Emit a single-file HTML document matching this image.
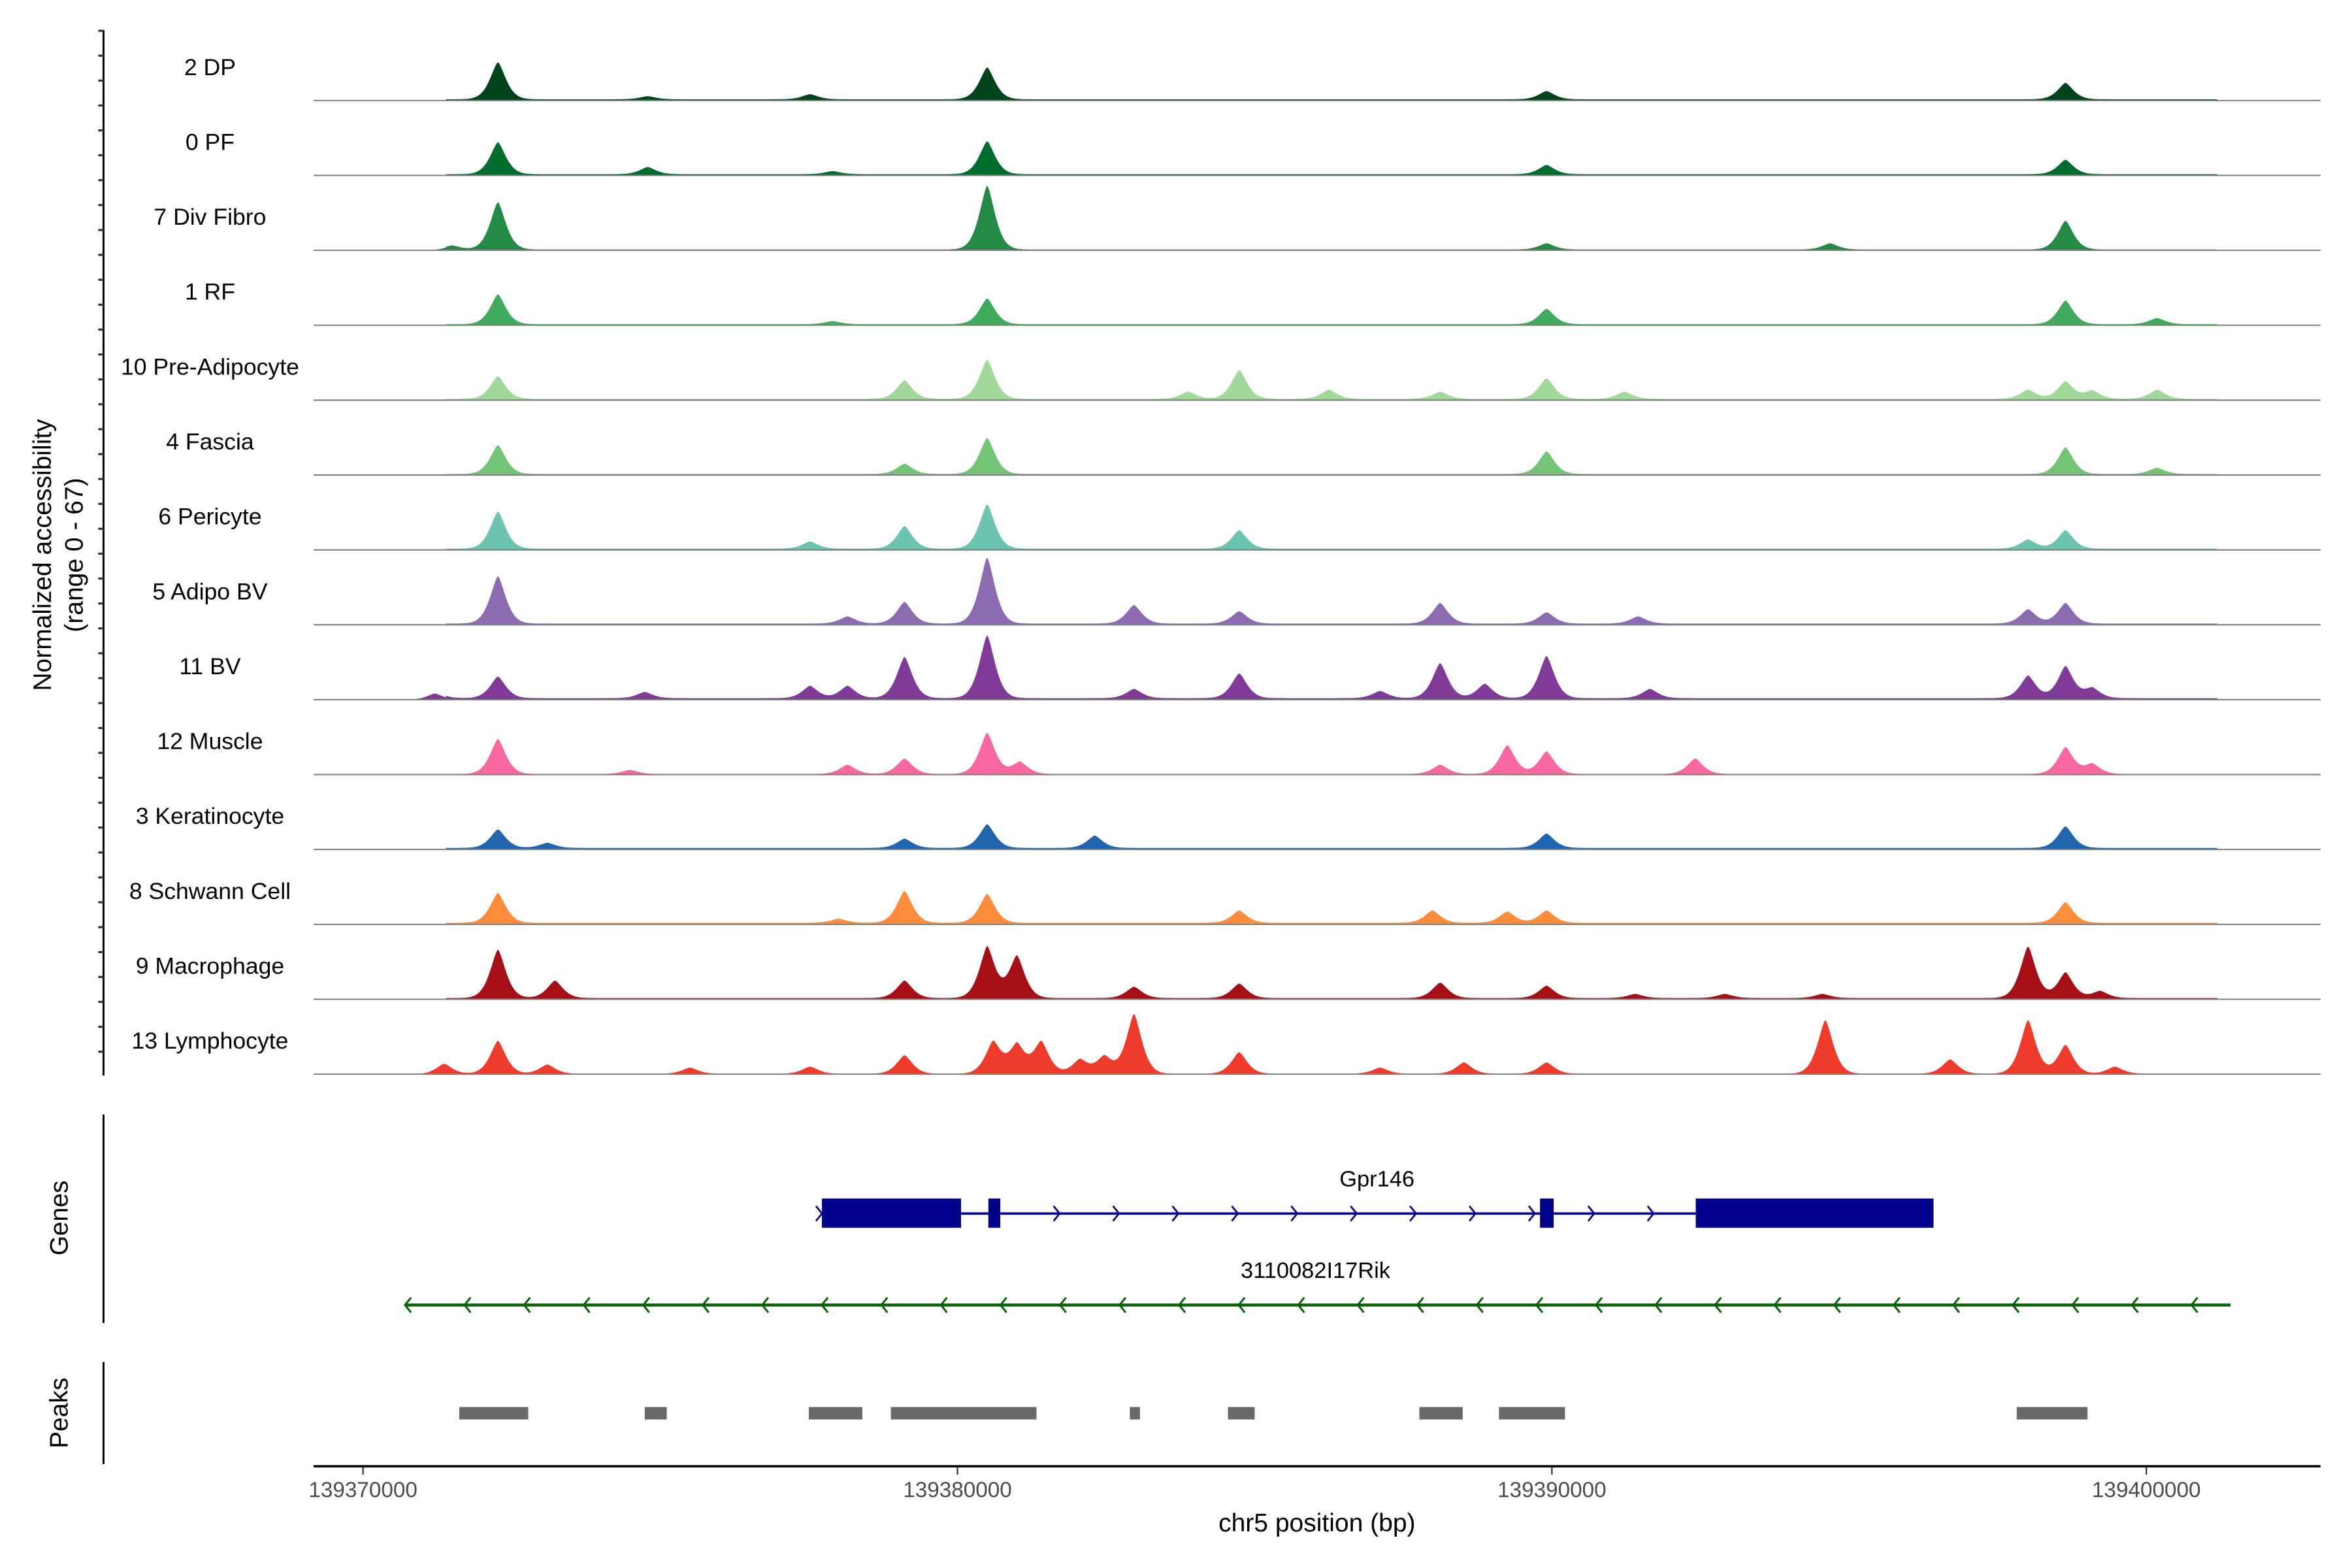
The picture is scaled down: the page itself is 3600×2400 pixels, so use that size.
<!DOCTYPE html>
<html><head><meta charset="utf-8"><style>
html,body{margin:0;padding:0;background:#fff;}
svg{display:block;font-family:"Liberation Sans",sans-serif;}
</style></head><body>
<svg id="chart" xmlns="http://www.w3.org/2000/svg" width="3600" height="2400" viewBox="0 0 1568 1045.3">
<rect x="0" y="0" width="1568" height="1046" fill="#fff"/>
<g id="tracks"></g>
<line x1="69" y1="20" x2="69" y2="717" stroke="#000" stroke-width="1.3"/>
<g id="yticks"></g>
<text transform="translate(34,370) rotate(-90)" text-anchor="middle" font-size="17">Normalized accessibility</text>
<text transform="translate(55,370) rotate(-90)" text-anchor="middle" font-size="17">(range 0 - 67)</text>

<line x1="69" y1="743" x2="69" y2="882" stroke="#000" stroke-width="1.3"/>
<text transform="translate(45,812) rotate(-90)" text-anchor="middle" font-size="17">Genes</text>
<g id="genes"></g>

<line x1="69" y1="908" x2="69" y2="976" stroke="#000" stroke-width="1.3"/>
<text transform="translate(45,942) rotate(-90)" text-anchor="middle" font-size="17">Peaks</text>
<g id="peaks"></g>

<line x1="209" y1="977.5" x2="1547" y2="977.5" stroke="#000" stroke-width="1.6"/>
<g id="xticks"></g>
<text x="878" y="1021" text-anchor="middle" font-size="17">chr5 position (bp)</text>
</svg>
<script>
const NS="http://www.w3.org/2000/svg";
const trackNames=["2 DP","0 PF","7 Div Fibro","1 RF","10 Pre-Adipocyte","4 Fascia","6 Pericyte","5 Adipo BV","11 BV","12 Muscle","3 Keratinocyte","8 Schwann Cell","9 Macrophage","13 Lymphocyte"];
const trackColors=["#00441b","#006d2c","#238b45","#41ab5d","#a1d99b","#74c476","#6cc3b0","#8c6bb1","#7f3b97","#f768a1","#2166ac","#fd8d3c","#a50f15","#ef3b2c"];
// background accessibility level per track (0-67 scale)
const bgLevel=[1.2,1.2,0.8,1.0,1.2,1.0,1.2,1.2,1.5,0.6,1.5,1.5,1.2,0.4];
// peak positions (kb offset from 139370000) and heights (0-67 scale) per track
const peakPos=[
[2.27,10.50,19.91,28.64,7.52,4.79],
[2.27,10.50,4.79,19.91,28.64,7.9],
[2.27,10.50,28.64,19.91,24.68,1.5],
[2.27,10.50,19.91,28.64,30.18,7.9],
[2.27,9.11,10.50,14.74,19.91,28.64,28.01,29.09,30.18,16.25,13.88,21.22,18.12],
[2.27,9.11,10.50,19.91,28.64,30.18],
[2.27,9.11,10.50,14.74,28.01,28.64,7.52],
[2.27,9.11,10.50,12.97,14.74,18.12,19.91,21.45,28.01,28.64,8.15],
[2.27,9.11,10.50,7.52,8.15,12.97,14.74,18.12,19.91,18.87,21.65,28.01,28.64,29.09,1.21,4.74,17.11],
[2.27,9.11,10.50,11.05,19.25,19.91,22.41,18.12,28.64,29.09,8.15,4.49],
[2.27,9.11,10.50,12.31,19.91,28.64,3.10],
[2.27,9.11,10.50,14.74,17.99,19.25,19.91,28.64,8.0],
[2.27,3.23,9.11,10.50,11.00,12.97,14.74,18.12,19.91,28.01,28.64,29.22,21.40,22.91,24.55],
[1.36,2.27,3.10,9.11,10.60,11.00,11.41,12.06,12.47,12.97,14.74,18.52,19.91,24.60,26.70,28.01,28.64,29.47,5.50,7.52,17.11]
];
const peakVal=[
[36,31,8,16,5,3],
[31,32,7,9,14,3],
[46,62,28,6,6,4],
[29,25,15,23,6,3],
[22,18,38,28,20,17,9,8,9,9,7,7,7],
[28,10,35,22,26,6],
[36,22,43,18,9,18,7],
[46,21,64,18,12,20,11,7,14,20,7],
[21,40,61,12,12,9,24,34,41,14,9,22,31,10,6,6,7],
[34,15,40,12,28,22,15,9,26,10,9,4],
[18,9,23,12,14,21,5],
[29,31,28,12,12,11,12,20,4],
[47,17,17,50,41,11,14,15,12,50,25,7,4,4,4],
[10,32,9,18,31,28,31,14,17,58,21,11,11,52,14,52,28,7,6,7,6]
];
const xTicks=[139370000,139380000,139390000,139400000];
const peakStart=[139371620,139374740,139377500,139378880,139382900,139384550,139387770,139389110,139397820];
const peakEnd=[139372780,139375110,139378400,139381330,139383070,139385000,139388500,139390220,139399010];
const geneExonStart=[139377720,139380520,139389800,139392420];
const geneExonEnd=[139380060,139380720,139390030,139396420];

const X0=139370000;
function xs(bp){return 242+(bp-X0)/1000*39.63;}
function ys(v,base){return base-v*46/67;}

const tg=document.getElementById('tracks');
for(let t=0;t<trackNames.length;t++){
  const base=67+t*49.93;
  const g=document.createElementNS(NS,'g');
  
  
  const lab=document.createElementNS(NS,'text');
  
  
  lab.setAttribute('x',140);lab.setAttribute('y',base-17);
  lab.setAttribute('text-anchor','middle');lab.setAttribute('font-size','15.5');
  lab.textContent=trackNames[t];g.appendChild(lab);
  let d='M209,'+base;
  for(let px=209;px<=1547;px+=0.5){
    const bp=X0+(px-242)/39.63*1000;
    let v=(bp>X0+1400&&bp<X0+31200)?bgLevel[t]:0;
    for(let k=0;k<peakPos[t].length;k++){
      const c=X0+peakPos[t][k]*1000;
      const dd=Math.abs(bp-c)/190;
      v+=peakVal[t][k]*Math.exp(-Math.pow(dd,1.5));
    }
    d+=' L'+px+','+ys(v,base).toFixed(2);
  }
  d+=' L1547,'+base+' Z';
  const p=document.createElementNS(NS,'path');
  
  
  p.setAttribute('d',d);p.setAttribute('fill',trackColors[t]);
  g.appendChild(p);
  const bl=document.createElementNS(NS,'line');
  
  
  bl.setAttribute('x1',209);bl.setAttribute('x2',1547);
  bl.setAttribute('y1',base);bl.setAttribute('y2',base);
  bl.setAttribute('stroke','#7f7f7f');bl.setAttribute('stroke-width','0.9');
  g.appendChild(bl);
  tg.appendChild(g);
}
const yt=document.getElementById('yticks');
for(let y=20.5;y<=717;y+=16.6){
  const l=document.createElementNS(NS,'line');
  
  
  l.setAttribute('x1',65.5);l.setAttribute('x2',69);l.setAttribute('y1',y);l.setAttribute('y2',y);
  l.setAttribute('stroke','#333');l.setAttribute('stroke-width','1.4');
  yt.appendChild(l);
}
const gg=document.getElementById('genes');
function el(tag,attrs,name){const e=document.createElementNS(NS,tag);for(const k in attrs)e.setAttribute(k,attrs[k]);return e;}
gg.appendChild(el('line',{x1:xs(139377720),x2:xs(139396420),y1:809,y2:809,stroke:'#00008b','stroke-width':1.6},'gpr146-intron-line'));
for(let i=0;i<geneExonStart.length;i++){
  gg.appendChild(el('rect',{x:xs(geneExonStart[i]),y:799,width:xs(geneExonEnd[i])-xs(geneExonStart[i]),height:19.5,fill:'#00008b'},'gpr146-exon'));
}
for(let x=546;x<1110;x+=39.6){
  gg.appendChild(el('path',{d:`M${x-2},804 L${x+2},809 L${x-2},814`,fill:'none',stroke:'#00008b','stroke-width':1.2},'gpr146-strand-arrow'));
}
const gl=el('text',{x:918,y:791,'text-anchor':'middle','font-size':15},'gpr146-label');gl.textContent='Gpr146';gg.appendChild(gl);
gg.appendChild(el('line',{x1:270,x2:1487,y1:870,y2:870,stroke:'#006400','stroke-width':2},'rik-gene-line'));
for(let x=271;x<1470;x+=39.7){
  gg.appendChild(el('path',{d:`M${x+3},865 L${x-1},870 L${x+3},875`,fill:'none',stroke:'#006400','stroke-width':1.3},'rik-strand-arrow'));
}
const rl=el('text',{x:877,y:852,'text-anchor':'middle','font-size':15},'rik-gene-label');rl.textContent='3110082I17Rik';gg.appendChild(rl);
const pg=document.getElementById('peaks');
for(let i=0;i<peakStart.length;i++){
  pg.appendChild(el('rect',{x:xs(peakStart[i]),y:938,width:xs(peakEnd[i])-xs(peakStart[i]),height:8.3,fill:'#696969'},'peak-region'));
}
const xg=document.getElementById('xticks');
for(const v of xTicks){
  const x=xs(v);
  xg.appendChild(el('line',{x1:x,x2:x,y1:978,y2:983,stroke:'#333','stroke-width':1},'x-tick'));
  const t=el('text',{x:x,y:998,'text-anchor':'middle','font-size':14.5,fill:'#4d4d4d'},'x-tick-label');
  t.textContent=String(v);xg.appendChild(t);
}
</script>
</body></html>
